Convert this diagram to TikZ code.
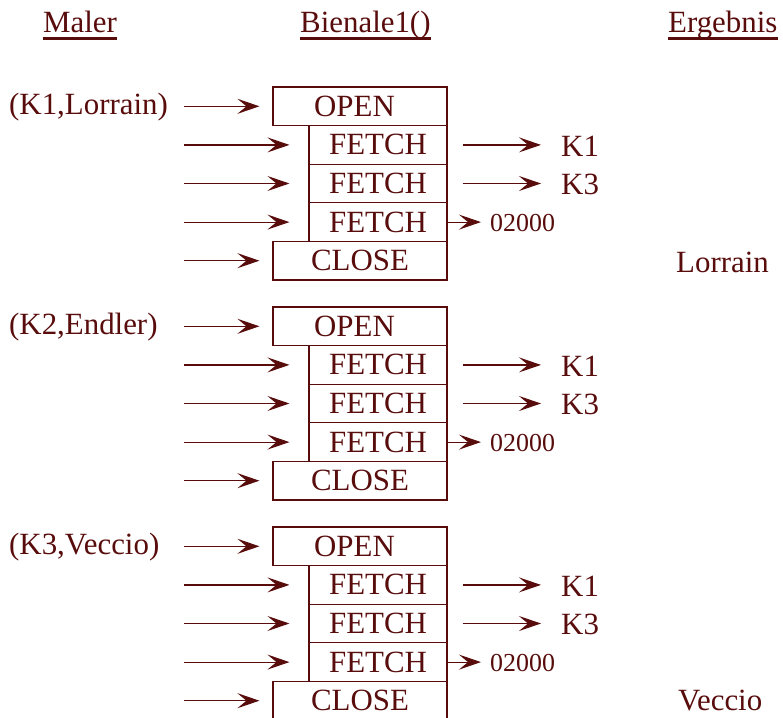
\documentclass[tikz,border=0pt]{standalone}
\usepackage{fontspec}
\setmainfont{Liberation Serif}
\usetikzlibrary{arrows.meta}
\definecolor{ink}{RGB}{88,12,12}
\begin{document}
\begin{tikzpicture}[x=1bp,y=-1bp,
  every node/.style={text=ink},
  txt/.style={inner sep=0pt, font=\fontsize{31}{31}\selectfont},
  small/.style={inner sep=0pt, font=\fontsize{26}{26}\selectfont},
  box/.style={draw=ink, line width=1.1bp, inner sep=0pt, minimum height=38.6bp,
    font=\fontsize{31}{31}\selectfont},
  widebox/.style={box, minimum width=174bp},
  narrowbox/.style={box, minimum width=138bp},
  arr/.style={draw=ink, line width=1.2bp,
    -{Stealth[length=22bp, width=15bp, inset=9bp]}},
  hline/.style={draw=ink, line width=2.6bp}]
\useasboundingbox (0,0) rectangle (783,718);

% column headings
\node[txt, anchor=base west] (hmaler) at (43,33) {Maler};
\node[txt, anchor=base west] (hbien) at (300,33) {Bienale1()};
\node[txt, anchor=base west] (herg) at (668,33) {Ergebnis};
\foreach \h in {hmaler,hbien,herg}
  \draw[hline] ([yshift=-5.5bp]\h.base west) -- ([yshift=-5.5bp]\h.base east);

% one OPEN / FETCH / FETCH / FETCH / CLOSE sequence per painter
\foreach \b/\yy/\lbl in {1/87/{(K1,Lorrain)},2/307/{(K2,Endler)},3/527/{(K3,Veccio)}}{
  \node[widebox] (open\b) at (360,\yy+19.3) {OPEN\kern11bp};
  \node[narrowbox] (fa\b) at (378,\yy+57.9) {FETCH};
  \node[narrowbox] (fb\b) at (378,\yy+96.5) {FETCH};
  \node[narrowbox] (fc\b) at (378,\yy+135.1) {FETCH};
  \node[widebox] (close\b) at (360,\yy+173.7) {CLOSE};

  % incoming calls
  \node[txt, anchor=west] (src\b) at (9,\yy+20.5) {\lbl};
  \coordinate (ina\b) at (184,\yy+57.9);
  \coordinate (inb\b) at (184,\yy+96.5);
  \coordinate (inc\b) at (184,\yy+135.1);
  \coordinate (ind\b) at (184,\yy+173.7);
  \draw[arr] (184,\yy+19.3) -- ([xshift=-13bp]open\b.west);
  \draw[arr] (ina\b) -- ([xshift=-19bp]fa\b.west);
  \draw[arr] (inb\b) -- ([xshift=-19bp]fb\b.west);
  \draw[arr] (inc\b) -- ([xshift=-19bp]fc\b.west);
  \draw[arr] (ind\b) -- ([xshift=-13bp]close\b.west);

  % fetched results
  \node[txt, anchor=west] (ka\b) at (561,\yy+59) {K1};
  \node[txt, anchor=west] (kb\b) at (561,\yy+97.6) {K3};
  \node[small, anchor=west] (kc\b) at (490,\yy+135.6) {02000};
  \draw[arr] ([xshift=15bp]fa\b.east) -- ([xshift=-20bp]fa\b.east -| ka\b.west);
  \draw[arr] ([xshift=15bp]fb\b.east) -- ([xshift=-20bp]fb\b.east -| kb\b.west);
  \draw[arr] (fc\b.east) -- ([xshift=-9bp]fc\b.east -| kc\b.west);
}

% results
\node[txt, anchor=west] (res1) at (676,262) {Lorrain};
\node[txt, anchor=west] (res3) at (678,701) {Veccio};
\end{tikzpicture}
\end{document}
